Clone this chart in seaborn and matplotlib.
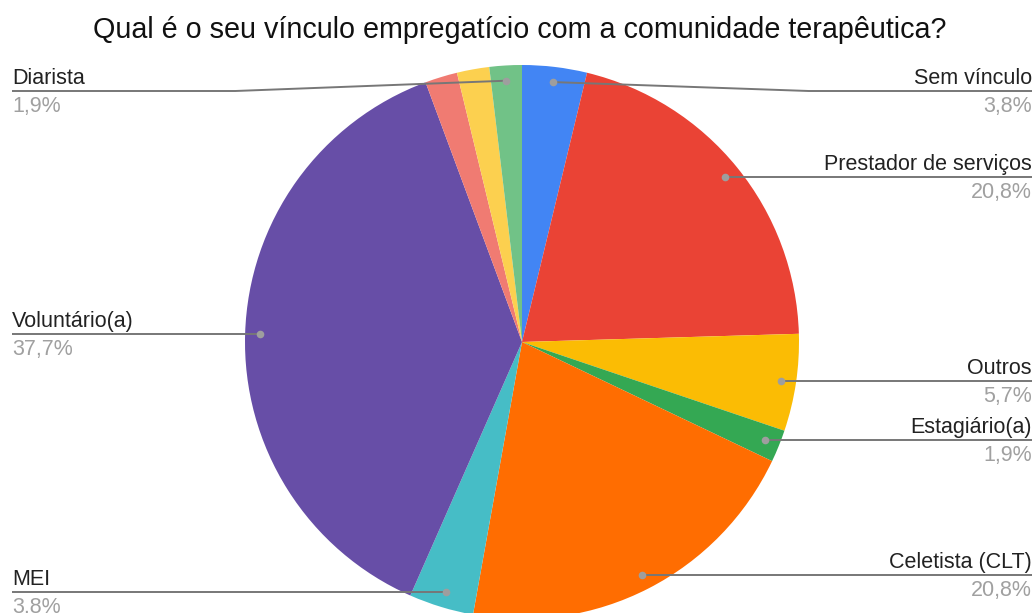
import numpy as np
import seaborn as sns
import matplotlib.pyplot as plt

# respostas (N = 53), em sentido horário a partir do topo
categories = ["Sem vínculo", "Prestador de serviços", "Outros", "Estagiário(a)",
              "Celetista (CLT)", "MEI", "Voluntário(a)", None, None, "Diarista"]
counts = [2, 11, 3, 1, 11, 2, 20, 1, 1, 1]
colors = ["#4285F4", "#EA4335", "#FBBC04", "#34A853", "#FF6D01",
          "#46BDC6", "#674EA7", "#F07B72", "#FCD04F", "#71C287"]
title = "Qual é o seu vínculo empregatício com a comunidade terapêutica?"

W, H = 1036, 613

sns.set_theme(style="white")
plt.rcParams['font.family'] = ['Liberation Sans', 'DejaVu Sans']

fig = plt.figure(figsize=(W / 100, H / 100), dpi=100)

# pie axes: centre (522, 342) px, radius 277 px
cx, cy, R = 522, 342, 277
ax = fig.add_axes([(cx - R) / W, (H - cy - R) / H, 2 * R / W, 2 * R / H])
wedges, _ = ax.pie(counts, colors=sns.color_palette(colors), startangle=90,
                   counterclock=False, radius=1, wedgeprops=dict(linewidth=0))
ax.set_xlim(-1, 1)
ax.set_ylim(-1, 1)
ax.axis("off")
for w in wedges:
    w.set_clip_on(False)

# overlay in pixel coordinates for labels
ov = fig.add_axes([0, 0, 1, 1], zorder=5)
ov.set_xlim(0, W)
ov.set_ylim(H, 0)
ov.axis("off")
ov.patch.set_alpha(0)

to_px = ax.transData + ov.transData.inverted()
total = sum(counts)
line_c = "#777777"

for w, name, n in zip(wedges, categories, counts):
    if name is None:
        continue
    mid = np.deg2rad((w.theta1 + w.theta2) / 2)
    dx, dy = to_px.transform((0.945 * np.cos(mid), 0.945 * np.sin(mid)))
    ly = max(dy, 91)
    right = dx >= cx
    edge = 1032 if right else 12
    elbow = cx + (1.035 * R if right else -1.035 * R)
    if ly != dy:
        xs, ys = [dx, elbow, edge], [dy, ly, ly]
    else:
        xs, ys = [dx, edge], [dy, ly]
    ov.plot(xs, ys, color=line_c, lw=1.4, solid_capstyle="butt")
    ov.plot([dx], [dy], "o", ms=5.5, color="#9e9e9e", mec="none")
    ha = "right" if right else "left"
    pct = f"{n / total * 100:.1f}".replace(".", ",") + "%"
    ov.text(edge, ly - 7, name, ha=ha, va="baseline", fontsize=15.5, color="#222222")
    ov.text(edge, ly + 21, pct, ha=ha, va="baseline", fontsize=15.5, color="#a0a0a0")

fig.text(520 / W, 1 - 38 / H, title, ha="center", va="baseline",
         fontsize=20.7, color="#111111")

fig.savefig("out.png", dpi=100)
